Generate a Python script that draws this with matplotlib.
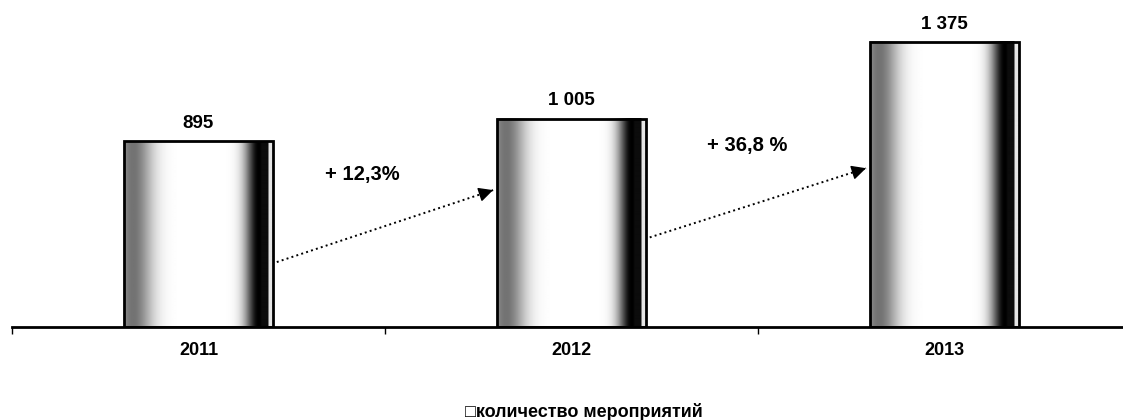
import numpy as np
import matplotlib.pyplot as plt
from matplotlib.patches import Rectangle

years = ["2011", "2012", "2013"]
events = [895, 1005, 1375]
growth = ["+ 12,3%", "+ 36,8 %"]
legend_label = "количество мероприятий"

plt.rcParams['font.family'] = ['Liberation Sans', 'DejaVu Sans']

fig = plt.figure(figsize=(11.23, 4.2), dpi=100)
ax = fig.add_axes([12 / 1123, 1 - 327 / 420, 1 - 12 / 1123, 311 / 420])

x = np.arange(len(years))
w = 0.4
ax.set_xlim(-0.5, 2.479)
ax.set_ylim(0, 1500)

# grey gradient, dark at both sides, white in the middle
t = np.linspace(0, 1, 300)
shade = (1 - 0.55 * np.exp(-((t - 0.06) / 0.13) ** 2)
         - 1.0 * np.exp(-((t - 0.9) / 0.09) ** 2))
shade[t > 0.9] = np.minimum(shade[t > 0.9], 0.05)
shade[t > 0.965] = 0.9
shade = np.clip(shade, 0, 1)
grad = np.tile(shade, (2, 1))

for xi, v in zip(x, events):
    ax.imshow(grad, cmap='gray', vmin=0, vmax=1, aspect='auto',
              extent=(xi - w / 2, xi + w / 2, 0, v), zorder=2, interpolation='bilinear')
    ax.add_patch(Rectangle((xi - w / 2, 0), w, v, fill=False, edgecolor='black', lw=2, zorder=3))
    ax.text(xi, v + 45, f"{v:,}".replace(",", " "), ha='center', va='bottom',
            fontsize=13.5, fontweight='bold')

# dotted arrows between bars
arrow_from = [0.35, 0.43]
arrow_to = [0.657, 0.557]
label_pos = [(0.438, 737), (1.47, 877)]
for i in range(len(events) - 1):
    x0 = x[i] + w / 2 + 0.01
    x1 = x[i + 1] - w / 2 - 0.01
    y0 = events[i] * arrow_from[i]
    y1 = events[i + 1] * arrow_to[i]
    ax.plot([x0, x1], [y0, y1], ls=':', lw=1.4, color='black', zorder=4)
    # solid head
    ax.annotate("", xy=(x1, y1), xytext=(x1 - 0.01 * (x1 - x0), y1 - 0.01 * (y1 - y0)),
                arrowprops=dict(arrowstyle='-|>', lw=1, color='black',
                                mutation_scale=22, shrinkA=0, shrinkB=0), zorder=5)
    ax.text(label_pos[i][0], label_pos[i][1], growth[i],
            ha='center', va='center', fontsize=14.5, fontweight='bold')

ax.set_xticks(x)
ax.set_xticklabels(years, fontsize=13, fontweight='bold')
ax.tick_params(axis='x', length=0, pad=11)
ax.set_xticks([-0.5, 0.5, 1.5], minor=True)
ax.tick_params(axis='x', which='minor', length=5, width=1, direction='out')
ax.set_yticks([])
for s in ['top', 'right', 'left']:
    ax.spines[s].set_visible(False)
ax.spines['bottom'].set_linewidth(2)

fig.text(584 / 1123, 1 - 412 / 420, "\u25a1" + legend_label, ha='center', va='center',
         fontsize=13, fontweight='bold')

fig.savefig("out.png", dpi=100)
